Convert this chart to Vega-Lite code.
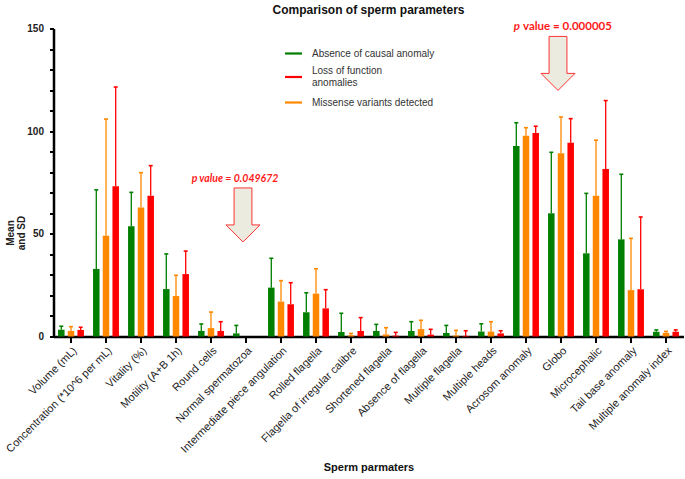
{
  "$schema": "https://vega.github.io/schema/vega-lite/v6.json",
  "width": 630,
  "height": 308,
  "autosize": "none",
  "padding": {"left": 53.5, "top": 28.5, "right": 1.5, "bottom": 142.5},
  "background": "white",
  "config": {
    "view": {"stroke": null},
    "font": "Liberation Sans",
    "axisY": {
      "titleFontSize": 10,
      "titleFontWeight": "bold",
      "titleColor": "#222",
      "titleLineHeight": 11,
      "titleX": -43,
      "titleY": 204,
      "titleAngle": -90,
      "titleAlign": "center",
      "titleBaseline": "middle",
      "labelOverlap": false,
      "labelFlush": false,
      "labelFontSize": 10,
      "labelFontWeight": "bold",
      "labelColor": "#222",
      "labelPadding": 6,
      "tickSize": 4,
      "tickWidth": 2,
      "tickColor": "#000",
      "domainWidth": 2.5,
      "domainColor": "#000",
      "grid": false
    }
  },
  "title": {"text": "Comparison of sperm parameters", "fontSize": 12, "fontWeight": "bold", "color": "#111", "offset": 4, "anchor": "middle"},
  "datasets": {
    "bars": [
      {"param": "Volume (mL)", "group": "Absence of causal anomaly", "mean": 3.3, "upper": 5.0},
      {"param": "Volume (mL)", "group": "Missense variants detected", "mean": 2.7, "upper": 4.8},
      {"param": "Volume (mL)", "group": "Loss of function anomalies", "mean": 3.2, "upper": 4.5},
      {"param": "Concentration (*10^6 per mL)", "group": "Absence of causal anomaly", "mean": 32.9, "upper": 71.4},
      {"param": "Concentration (*10^6 per mL)", "group": "Missense variants detected", "mean": 49.1, "upper": 105.9},
      {"param": "Concentration (*10^6 per mL)", "group": "Loss of function anomalies", "mean": 73.2, "upper": 121.5},
      {"param": "Vitality (%)", "group": "Absence of causal anomaly", "mean": 53.7, "upper": 70.2},
      {"param": "Vitality (%)", "group": "Missense variants detected", "mean": 62.8, "upper": 79.8},
      {"param": "Vitality (%)", "group": "Loss of function anomalies", "mean": 68.6, "upper": 83.2},
      {"param": "Motility (A+B 1h)", "group": "Absence of causal anomaly", "mean": 23.1, "upper": 40.2},
      {"param": "Motility (A+B 1h)", "group": "Missense variants detected", "mean": 19.7, "upper": 29.8},
      {"param": "Motility (A+B 1h)", "group": "Loss of function anomalies", "mean": 30.4, "upper": 41.6},
      {"param": "Round cells", "group": "Absence of causal anomaly", "mean": 2.7, "upper": 6.1},
      {"param": "Round cells", "group": "Missense variants detected", "mean": 4.1, "upper": 11.9},
      {"param": "Round cells", "group": "Loss of function anomalies", "mean": 2.7, "upper": 7.2},
      {"param": "Normal spermatozoa", "group": "Absence of causal anomaly", "mean": 1.5, "upper": 5.4},
      {"param": "Intermediate piece angulation", "group": "Absence of causal anomaly", "mean": 23.8, "upper": 38.1},
      {"param": "Intermediate piece angulation", "group": "Missense variants detected", "mean": 17.0, "upper": 27.2},
      {"param": "Intermediate piece angulation", "group": "Loss of function anomalies", "mean": 15.7, "upper": 26.2},
      {"param": "Rolled flagella", "group": "Absence of causal anomaly", "mean": 11.8, "upper": 21.3},
      {"param": "Rolled flagella", "group": "Missense variants detected", "mean": 20.9, "upper": 33.0},
      {"param": "Rolled flagella", "group": "Loss of function anomalies", "mean": 13.7, "upper": 22.8},
      {"param": "Flagella of irregular calibre", "group": "Absence of causal anomaly", "mean": 2.2, "upper": 11.3},
      {"param": "Flagella of irregular calibre", "group": "Missense variants detected", "mean": 0.6, "upper": 1.5},
      {"param": "Flagella of irregular calibre", "group": "Loss of function anomalies", "mean": 2.7, "upper": 9.2},
      {"param": "Shortened flagella", "group": "Absence of causal anomaly", "mean": 2.7, "upper": 5.9},
      {"param": "Shortened flagella", "group": "Missense variants detected", "mean": 1.0, "upper": 4.3},
      {"param": "Shortened flagella", "group": "Loss of function anomalies", "mean": 0.4, "upper": 2.0},
      {"param": "Absence of flagella", "group": "Absence of causal anomaly", "mean": 2.7, "upper": 7.2},
      {"param": "Absence of flagella", "group": "Missense variants detected", "mean": 3.6, "upper": 7.9},
      {"param": "Absence of flagella", "group": "Loss of function anomalies", "mean": 0.9, "upper": 3.5},
      {"param": "Multiple flagella", "group": "Absence of causal anomaly", "mean": 1.7, "upper": 5.4},
      {"param": "Multiple flagella", "group": "Missense variants detected", "mean": 0.5, "upper": 3.0},
      {"param": "Multiple flagella", "group": "Loss of function anomalies", "mean": 0.3, "upper": 2.8},
      {"param": "Multiple heads", "group": "Absence of causal anomaly", "mean": 2.4, "upper": 6.2},
      {"param": "Multiple heads", "group": "Missense variants detected", "mean": 2.4, "upper": 7.2},
      {"param": "Multiple heads", "group": "Loss of function anomalies", "mean": 1.5, "upper": 2.8},
      {"param": "Acrosom anomaly", "group": "Absence of causal anomaly", "mean": 92.8, "upper": 104.1},
      {"param": "Acrosom anomaly", "group": "Missense variants detected", "mean": 97.8, "upper": 101.7},
      {"param": "Acrosom anomaly", "group": "Loss of function anomalies", "mean": 99.1, "upper": 102.4},
      {"param": "Globo", "group": "Absence of causal anomaly", "mean": 60.0, "upper": 89.7},
      {"param": "Globo", "group": "Missense variants detected", "mean": 89.2, "upper": 106.9},
      {"param": "Globo", "group": "Loss of function anomalies", "mean": 94.4, "upper": 106.1},
      {"param": "Microcephalic", "group": "Absence of causal anomaly", "mean": 40.5, "upper": 69.7},
      {"param": "Microcephalic", "group": "Missense variants detected", "mean": 68.6, "upper": 95.6},
      {"param": "Microcephalic", "group": "Loss of function anomalies", "mean": 81.6, "upper": 114.9},
      {"param": "Tail base anomaly", "group": "Absence of causal anomaly", "mean": 47.3, "upper": 79.0},
      {"param": "Tail base anomaly", "group": "Missense variants detected", "mean": 22.6, "upper": 47.8},
      {"param": "Tail base anomaly", "group": "Loss of function anomalies", "mean": 23.0, "upper": 58.2},
      {"param": "Multiple anomaly index", "group": "Absence of causal anomaly", "mean": 2.3, "upper": 3.2},
      {"param": "Multiple anomaly index", "group": "Missense variants detected", "mean": 1.8, "upper": 2.5},
      {"param": "Multiple anomaly index", "group": "Loss of function anomalies", "mean": 2.3, "upper": 3.2}
    ],
    "arrows": [
      {"param": "Normal spermatozoa", "y": 59.2},
      {"param": "Globo", "y": 133}
    ],
    "notes": [
      {"id": "a", "param": "Normal spermatozoa", "y": 76.7, "label": "p value = 0.049672"},
      {"id": "b", "param": "Globo", "y": 150.6, "label": "p"},
      {"id": "c", "param": "Globo", "y": 150.6, "label": "value = 0.000005"}
    ]
  },
  "encoding": {
    "x": {
      "field": "param",
      "type": "nominal",
      "sort": null,
      "scale": {
        "domain": ["Volume (mL)", "Concentration (*10^6 per mL)", "Vitality (%)", "Motility (A+B 1h)", "Round cells", "Normal spermatozoa", "Intermediate piece angulation", "Rolled flagella", "Flagella of irregular calibre", "Shortened flagella", "Absence of flagella", "Multiple flagella", "Multiple heads", "Acrosom anomaly", "Globo", "Microcephalic", "Tail base anomaly", "Multiple anomaly index"],
        "paddingInner": 0.26,
        "paddingOuter": 0.13
      },
      "axis": {
        "title": "Sperm parmaters",
        "titleFontSize": 11,
        "titleFontWeight": "bold",
        "titleColor": "#111",
        "titleY": 131,
        "titleBaseline": "middle",
        "labelAngle": -45,
        "labelAlign": "right",
        "labelBaseline": "top",
        "labelFontSize": 11,
        "labelColor": "#222",
        "labelPadding": 2,
        "labelLimit": 300,
        "labelOverlap": false,
        "tickSize": 6,
        "tickWidth": 2,
        "tickColor": "#000",
        "domainWidth": 2.5,
        "domainColor": "#000",
        "grid": false
      }
    }
  },
  "layer": [
    {
      "data": {"name": "bars"},
      "mark": {"type": "bar", "opacity": 1},
      "encoding": {
        "xOffset": {"field": "group", "type": "nominal", "scale": {"domain": ["Absence of causal anomaly", "Missense variants detected", "Loss of function anomalies"], "paddingInner": 0.33}},
        "y": {
          "field": "mean",
          "type": "quantitative",
          "scale": {"domain": [0, 150], "nice": false},
          "axis": {
            "title": ["Mean", "and SD"],
            "values": [0, 5, 10, 15, 20, 25, 30, 35, 40, 45, 50, 55, 60, 65, 70, 75, 80, 85, 90, 95, 100, 105, 110, 115, 120, 125, 130, 135, 140, 145, 150],
            "tickCount": 30,
            "labelExpr": "datum.value % 50 === 0 ? datum.label : ''",
            "encode": {
              "ticks": {
                "update": {
                  "x2": {"signal": "datum.value % 50 === 0 ? -7 : -4"}
                }
              }
            }
          }
        },
        "color": {
          "field": "group",
          "type": "nominal",
          "scale": {"domain": ["Absence of causal anomaly", "Loss of function anomalies", "Missense variants detected"], "range": ["#007f00", "#ff0000", "#ff8800"]},
          "legend": {
            "title": null,
            "orient": "none",
            "legendX": 231.5,
            "legendY": 16.5,
            "padding": 0,
            "symbolType": "M-1,-0.13 L1,-0.13 L1,0.13 L-1,0.13 Z",
            "symbolSize": 289,
            "symbolStrokeWidth": 0,
            "symbolOpacity": 1,
            "labelFontSize": 10,
            "labelColor": "#333",
            "labelOffset": 10,
            "labelLimit": 300,
            "rowPadding": 6.5,
            "labelExpr": "datum.label == 'Loss of function anomalies' ? ['Loss of function', 'anomalies'] : datum.label",
            "encode": {
              "labels": {
                "update": {
                  "dy": {"signal": "datum.value == 'Loss of function anomalies' ? -6.5 : 0"}
                }
              }
            }
          }
        }
      }
    },
    {
      "data": {"name": "bars"},
      "mark": {"type": "rule", "strokeWidth": 1.3},
      "encoding": {
        "xOffset": {"field": "group", "type": "nominal", "scale": {"domain": ["Absence of causal anomaly", "Missense variants detected", "Loss of function anomalies"], "paddingInner": 0.33}},
        "y": {"field": "mean", "type": "quantitative", "axis": {"title": ["Mean", "and SD"], "values": [0, 5, 10, 15, 20, 25, 30, 35, 40, 45, 50, 55, 60, 65, 70, 75, 80, 85, 90, 95, 100, 105, 110, 115, 120, 125, 130, 135, 140, 145, 150], "tickCount": 30, "labelExpr": "datum.value % 50 === 0 ? datum.label : ''"}},
        "y2": {"field": "upper"},
        "color": {"field": "group", "type": "nominal"}
      }
    },
    {
      "data": {"name": "bars"},
      "mark": {"type": "tick", "size": 4, "thickness": 1.6, "opacity": 1},
      "encoding": {
        "xOffset": {"field": "group", "type": "nominal", "scale": {"domain": ["Absence of causal anomaly", "Missense variants detected", "Loss of function anomalies"], "paddingInner": 0.33}},
        "y": {"field": "upper", "type": "quantitative", "axis": {"title": ["Mean", "and SD"], "values": [0, 5, 10, 15, 20, 25, 30, 35, 40, 45, 50, 55, 60, 65, 70, 75, 80, 85, 90, 95, 100, 105, 110, 115, 120, 125, 130, 135, 140, 145, 150], "tickCount": 30, "labelExpr": "datum.value % 50 === 0 ? datum.label : ''"}},
        "color": {"field": "group", "type": "nominal"}
      }
    },
    {
      "data": {"name": "arrows"},
      "mark": {"type": "point", "shape": "M-0.33,-1 L0.33,-1 L0.33,0.37 L0.63,0.37 L0,1 L-0.63,0.37 L-0.33,0.37 Z", "size": 2916, "filled": true, "fill": "#ecebe0", "stroke": "#ff3333", "strokeWidth": 1, "opacity": 1, "xOffset": -3},
      "encoding": {
        "y": {"field": "y", "type": "quantitative", "axis": {"title": ["Mean", "and SD"], "values": [0, 5, 10, 15, 20, 25, 30, 35, 40, 45, 50, 55, 60, 65, 70, 75, 80, 85, 90, 95, 100, 105, 110, 115, 120, 125, 130, 135, 140, 145, 150], "tickCount": 30, "labelExpr": "datum.value % 50 === 0 ? datum.label : ''"}}
      }
    },
    {
      "data": {"name": "notes"},
      "transform": [{"filter": "datum.id == 'a'"}],
      "mark": {"type": "text", "font": "Lato", "fontSize": 10.5, "fontWeight": "bold", "fontStyle": "italic", "color": "#ff1a1a", "align": "center", "baseline": "middle", "dx": -11, "clip": false},
      "encoding": {
        "y": {"field": "y", "type": "quantitative", "axis": {"title": ["Mean", "and SD"], "values": [0, 5, 10, 15, 20, 25, 30, 35, 40, 45, 50, 55, 60, 65, 70, 75, 80, 85, 90, 95, 100, 105, 110, 115, 120, 125, 130, 135, 140, 145, 150], "tickCount": 30, "labelExpr": "datum.value % 50 === 0 ? datum.label : ''"}},
        "text": {"field": "label"}
      }
    },
    {
      "data": {"name": "notes"},
      "transform": [{"filter": "datum.id == 'b'"}],
      "mark": {"type": "text", "font": "Lato", "fontSize": 11.5, "fontWeight": "bold", "fontStyle": "italic", "color": "#ff1a1a", "align": "right", "baseline": "middle", "dx": -41, "clip": false},
      "encoding": {
        "y": {"field": "y", "type": "quantitative", "axis": {"title": ["Mean", "and SD"], "values": [0, 5, 10, 15, 20, 25, 30, 35, 40, 45, 50, 55, 60, 65, 70, 75, 80, 85, 90, 95, 100, 105, 110, 115, 120, 125, 130, 135, 140, 145, 150], "tickCount": 30, "labelExpr": "datum.value % 50 === 0 ? datum.label : ''"}},
        "text": {"field": "label"}
      }
    },
    {
      "data": {"name": "notes"},
      "transform": [{"filter": "datum.id == 'c'"}],
      "mark": {"type": "text", "font": "Lato", "fontSize": 11.5, "fontWeight": "bold", "color": "#ff1a1a", "align": "left", "baseline": "middle", "dx": -38, "clip": false},
      "encoding": {
        "y": {"field": "y", "type": "quantitative", "axis": {"title": ["Mean", "and SD"], "values": [0, 5, 10, 15, 20, 25, 30, 35, 40, 45, 50, 55, 60, 65, 70, 75, 80, 85, 90, 95, 100, 105, 110, 115, 120, 125, 130, 135, 140, 145, 150], "tickCount": 30, "labelExpr": "datum.value % 50 === 0 ? datum.label : ''"}},
        "text": {"field": "label"}
      }
    }
  ]
}
